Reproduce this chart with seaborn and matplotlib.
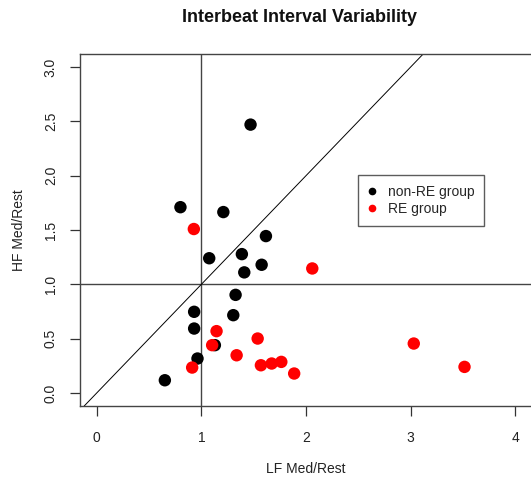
import matplotlib
matplotlib.use("Agg")
import matplotlib.pyplot as plt
from matplotlib.lines import Line2D
import seaborn as sns
import pandas as pd

# Data
nonre_lf = [1.47, 0.80, 1.21, 1.075, 1.387, 1.41, 1.576, 1.617, 1.327, 0.931, 1.305, 0.931, 1.129, 0.963, 0.651]
nonre_hf = [2.47, 1.71, 1.665, 1.24, 1.278, 1.11, 1.18, 1.444, 0.903, 0.747, 0.716, 0.593, 0.44, 0.317, 0.117]
re_lf = [0.928, 1.145, 1.538, 1.103, 1.337, 0.912, 1.569, 1.672, 1.764, 1.887, 2.06, 3.03, 3.515]
re_hf = [1.509, 0.569, 0.501, 0.44, 0.347, 0.234, 0.255, 0.271, 0.286, 0.179, 1.146, 0.455, 0.24]
group_labels = ["non-RE group", "RE group"]
x_ticks = [0, 1, 2, 3, 4]
y_ticks = [0.0, 0.5, 1.0, 1.5, 2.0, 2.5, 3.0]

df = pd.DataFrame({
    "LF": nonre_lf + re_lf,
    "HF": nonre_hf + re_hf,
    "group": [group_labels[0]] * len(nonre_lf) + [group_labels[1]] * len(re_lf),
})

sns.set_style("white")
plt.rcParams["font.family"] = ["Liberation Sans", "DejaVu Sans"]

fig = plt.figure(figsize=(5.31, 4.79), dpi=100)
ax = fig.add_axes([80 / 531, 73 / 479, 452 / 531, 352 / 479])

sns.scatterplot(data=df, x="LF", y="HF", hue="group",
                palette={group_labels[0]: "black", group_labels[1]: "#ff0000"},
                s=80, edgecolor="none", linewidth=0, legend=False, ax=ax, zorder=3)

ax.set_xlim(-0.16, 4.16)
ax.set_ylim(-0.12, 3.12)

ax.axvline(1, color="#444444", lw=1.0, zorder=2)
ax.axhline(1, color="#444444", lw=1.0, zorder=2)
ax.axline((0, 0), slope=1, color="black", lw=0.7, zorder=2)

ax.set_xticks(x_ticks)
ax.set_xticklabels([str(t) for t in x_ticks])
ax.set_yticks(y_ticks)
ax.set_yticklabels([f"{t:.1f}" for t in y_ticks], rotation=90, va="center")
ax.tick_params(axis="both", direction="out", length=7, width=0.9, color="#333333",
               labelsize=10, labelcolor="#222222")
ax.tick_params(axis="x", pad=11, bottom=True)
ax.tick_params(axis="y", pad=9, left=True)

for sp in ax.spines.values():
    sp.set_visible(True)
    sp.set_color("#444444")
    sp.set_linewidth(1.0)

ax.set_xlabel("LF Med/Rest", fontsize=10, color="#222222", labelpad=12)
ax.set_ylabel("HF Med/Rest", fontsize=10, color="#222222", labelpad=12.5)
fig.text(300 / 531, 1 - 18 / 479, "Interbeat Interval Variability", ha="center", va="center",
         fontsize=13, fontweight="bold", color="#111111")

handles = [Line2D([], [], marker="o", color="black", linestyle="none", markersize=4.5),
           Line2D([], [], marker="o", color="#ff0000", linestyle="none", markersize=4.5)]
leg = ax.legend(handles, group_labels, loc="upper left", bbox_to_anchor=(0.616, 0.656),
                frameon=True, fancybox=False, fontsize=10, handlelength=0.6,
                handletextpad=0.8, borderpad=0.7, labelspacing=0.25, borderaxespad=0)
leg.get_frame().set_edgecolor("#333333")
leg.get_frame().set_linewidth(1.0)

fig.savefig("out.png", dpi=100)
